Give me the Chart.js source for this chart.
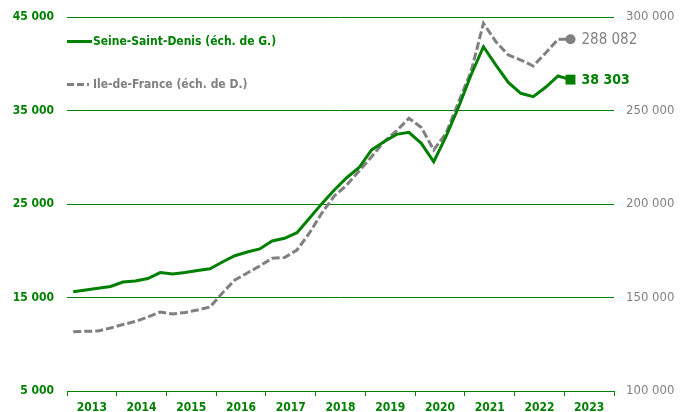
<!DOCTYPE html>
<html>
<head>
<meta charset="utf-8">
<script src="https://cdn.jsdelivr.net/npm/chart.js@4/dist/chart.umd.min.js"></script>
<style>
html,body{margin:0;padding:0;background:#fff;}
#wrap{width:688px;height:412px;position:relative;}
</style>
</head>
<body>
<div id="wrap"><canvas id="c" width="688" height="412"></canvas></div>
<script>
// Quarterly data, T1 2013 .. T1 2023
const quarters = [];
for (let y = 2013; y <= 2023; y++) for (let q = 1; q <= 4; q++) quarters.push('T' + q + ' ' + y);
const years = ['2013','2014','2015','2016','2017','2018','2019','2020','2021','2022','2023'];
const seineSaintDenis = [15620,15800,16000,16180,16660,16770,17030,17670,17510,17670,17890,18080,
  18800,19470,19870,20190,21040,21330,21930,23470,25040,26500,27810,28900,
  30780,31660,32450,32670,31490,29520,32250,35370,38800,41820,39850,38000,
  36840,36480,37480,38690,38303];
const ileDeFrance = [131710,131920,132090,133690,135560,137170,139570,142250,141180,141980,143320,144920,
  152410,159360,163100,166850,170960,171390,175400,184490,195190,204280,210160,217650,
  225290,233310,239040,245830,240910,228880,237970,254550,270750,296630,286790,279680,
  277000,273800,280750,288070,288082];
const leftTicks = [5000,15000,25000,35000,45000];
const rightTicks = [100000,150000,200000,250000,300000];
const seriesNames = ['Seine-Saint-Denis (éch. de G.)','Ile-de-France (éch. de D.)'];

const GREEN = '#008000';
const GRAY = '#808080';
const FONT = '"DejaVu Sans Condensed", "DejaVu Sans", sans-serif';

function fmt(v){ return String(Math.round(v)).replace(/\B(?=(\d{3})+(?!\d))/g, ' '); }

const ssdPts = seineSaintDenis.map((v,i)=>({x:i,y:v}));
const idfPts = ileDeFrance.map((v,i)=>({x:i,y:v}));
const lastIdx = seineSaintDenis.length - 1;

const overlay = {
  id: 'overlay',
  afterDatasetsDraw(chart){
    const ctx = chart.ctx;
    const ca = chart.chartArea;
    ctx.save();
    // legend
    ctx.lineWidth = 3;
    ctx.strokeStyle = GREEN;
    ctx.setLineDash([]);
    ctx.beginPath(); ctx.moveTo(ca.left, 41.5); ctx.lineTo(ca.left + 25, 41.5); ctx.stroke();
    ctx.strokeStyle = GRAY;
    ctx.setLineDash([7,3]);
    ctx.beginPath(); ctx.moveTo(ca.left, 84.5); ctx.lineTo(ca.left + 22, 84.5); ctx.stroke();
    ctx.setLineDash([]);
    ctx.font = 'bold 12px ' + FONT;
    ctx.textBaseline = 'middle';
    ctx.textAlign = 'left';
    ctx.fillStyle = GREEN;
    ctx.fillText(seriesNames[0], ca.left + 26, 41.5);
    ctx.fillStyle = GRAY;
    ctx.fillText(seriesNames[1], ca.left + 26, 84.5);
    // end labels
    const p0 = chart.getDatasetMeta(0).data[lastIdx];
    const p1 = chart.getDatasetMeta(1).data[lastIdx];
    ctx.font = 'bold 14px ' + FONT;
    ctx.fillStyle = GREEN;
    ctx.fillText(fmt(seineSaintDenis[lastIdx]), p0.x + 11, p0.y + 0.5);
    ctx.font = '15px ' + FONT;
    ctx.fillStyle = GRAY;
    ctx.fillText(fmt(ileDeFrance[lastIdx]), p1.x + 11, p1.y + 0.5);
    ctx.restore();
  }
};

const xTickVals = [];
for (let k = 0; k <= 22; k++) xTickVals.push(-0.5 + 2*k);

function noVPad(axis){ axis.paddingTop = 0; axis.paddingBottom = 0; }

new Chart(document.getElementById('c'), {
  type: 'line',
  data: {
    datasets: [
      {
        label: seriesNames[0], data: ssdPts, yAxisID: 'y', order: 0,
        borderColor: GREEN, backgroundColor: GREEN, borderWidth: 3, tension: 0,
        pointStyle: 'rect',
        pointRadius: ctx => ctx.dataIndex === lastIdx ? 7 : 0,
        pointHoverRadius: 0, pointBorderWidth: 0
      },
      {
        label: seriesNames[1], data: idfPts, yAxisID: 'y2', order: 1,
        borderColor: GRAY, backgroundColor: GRAY, borderWidth: 3, tension: 0,
        borderDash: [8,3],
        pointStyle: 'circle',
        pointRadius: ctx => ctx.dataIndex === lastIdx ? 5 : 0,
        pointHoverRadius: 0, pointBorderWidth: 0
      }
    ]
  },
  options: {
    responsive: false,
    animation: false,
    events: [],
    layout: { padding: { top: 17, left: 0, right: 0, bottom: 0 } },
    plugins: { legend: { display: false }, tooltip: { enabled: false } },
    scales: {
      x: {
        type: 'linear', min: -0.5, max: 43.5,
        afterBuildTicks: axis => { axis.ticks = xTickVals.map(v => ({value: v})); },
        afterFit: axis => { axis.height = 21; },
        ticks: {
          autoSkip: false, maxRotation: 0, padding: 5,
          color: GREEN, font: { family: FONT, size: 12, weight: 'bold' },
          callback: (v) => {
            const k = Math.round((v + 0.5) / 2);
            return (k % 2 === 1) ? years[(k - 1) / 2] : '';
          }
        },
        grid: {
          drawOnChartArea: false, drawTicks: true, tickLength: 5,
          color: GREEN, lineWidth: 1,
          tickColor: ctx => {
            const v = ctx.tick ? ctx.tick.value : 0;
            const k = Math.round((v + 0.5) / 2);
            return (k % 2 === 0) ? GREEN : 'rgba(0,0,0,0)';
          }
        },
        border: { display: true, color: GREEN, width: 1 }
      },
      y: {
        type: 'linear', position: 'left', min: 5000, max: 45000,
        afterBuildTicks: axis => { axis.ticks = leftTicks.map(v => ({value: v})); },
        afterFit: axis => { axis.width = 67; noVPad(axis); },
        ticks: {
          padding: 13, color: GREEN, font: { family: FONT, size: 12, weight: 'bold' },
          callback: v => fmt(v)
        },
        grid: { color: GREEN, lineWidth: 1, drawTicks: false },
        border: { display: false }
      },
      y2: {
        type: 'linear', position: 'right', min: 100000, max: 300000,
        afterBuildTicks: axis => { axis.ticks = rightTicks.map(v => ({value: v})); },
        afterFit: axis => { axis.width = 74; noVPad(axis); },
        ticks: {
          padding: 12, color: GRAY, font: { family: FONT, size: 13 },
          callback: v => fmt(v)
        },
        grid: { drawOnChartArea: false, drawTicks: false },
        border: { display: false }
      }
    }
  },
  plugins: [overlay]
});
</script>
</body>
</html>
